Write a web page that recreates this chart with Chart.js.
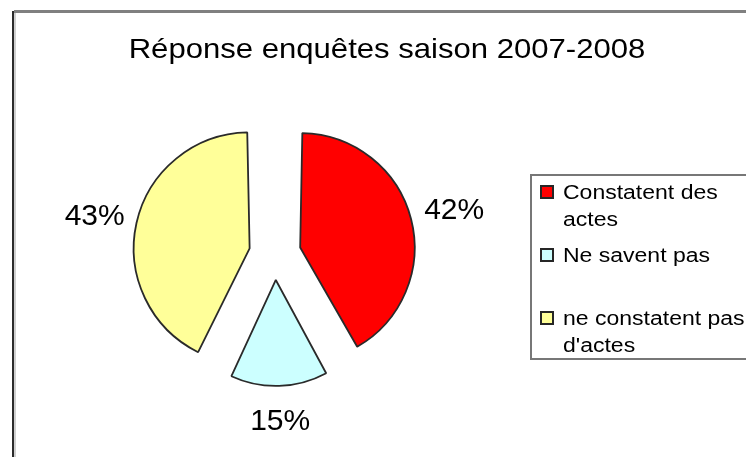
<!DOCTYPE html>
<html lang="fr">
<head>
<meta charset="utf-8">
<title>Réponse enquêtes saison 2007-2008</title>
<script src="https://cdn.jsdelivr.net/npm/chart.js@4.4.1/dist/chart.umd.min.js"></script>
<style>
  body { margin: 0; background: #ffffff; }
  canvas { display: block; }
</style>
</head>
<body>
<canvas id="myChart" width="746" height="457"></canvas>
<script>
// Datos del gráfico
const titulo = "Réponse enquêtes saison 2007-2008";
const categorias = ["Constatent des actes", "Ne savent pas", "ne constatent pas d'actes"];
const lineasLeyenda = [["Constatent des", "actes"], ["Ne savent pas"], ["ne constatent pas", "d'actes"]];
const valores = [42, 15, 43];
const colores = ["#ff0000", "#ccffff", "#ffff99"];

const fuente = '"Liberation Sans", Arial, sans-serif';
const separacion = 104; // chart.js desplaza cada porción offset / 4

// Texto estirado en horizontal, como en la imagen original
function textoEstirado(ctx, texto, x, y, escala) {
    ctx.save();
    ctx.translate(x, y);
    ctx.scale(escala, 1);
    ctx.fillText(texto, 0, 0);
    ctx.restore();
}

// Plugin para el marco, el título, los porcentajes y la leyenda con borde
const dibujoExtra = {
    id: "dibujoExtra",
    beforeDraw(chart) {
        const ctx = chart.ctx;
        ctx.save();
        ctx.fillStyle = "#2b2b2b";
        ctx.fillRect(12, 11, 2, chart.height);
        ctx.fillStyle = "#d0d0d0";
        ctx.fillRect(14, 13, 2, chart.height);
        ctx.fillStyle = "#808080";
        ctx.fillRect(14, 10, chart.width, 3);
        ctx.restore();
    },
    afterDraw(chart) {
        const ctx = chart.ctx;
        ctx.save();
        ctx.fillStyle = "#000000";

        // Título
        ctx.font = `28px ${fuente}`;
        ctx.textAlign = "center";
        ctx.textBaseline = "alphabetic";
        textoEstirado(ctx, titulo, 387, 58, 1.11);

        // Porcentajes fuera de cada porción
        ctx.font = `30px ${fuente}`;
        const meta = chart.getDatasetMeta(0);
        meta.data.forEach((arco, i) => {
            const angulo = (arco.startAngle + arco.endAngle) / 2;
            const ux = Math.cos(angulo);
            const uy = Math.sin(angulo);
            const texto = `${valores[i]}%`;
            const mitadAncho = ctx.measureText(texto).width / 2;
            const mitadAlto = 11;
            const borde = arco.outerRadius + separacion / 4 + 27;
            const extra = Math.min(
                mitadAncho / Math.max(Math.abs(ux), 1e-6),
                mitadAlto / Math.max(Math.abs(uy), 1e-6)
            );
            const d = borde + extra;
            ctx.fillText(texto, arco.x + ux * d, arco.y + uy * d + 11);
        });

        // Leyenda
        ctx.strokeStyle = "#777777";
        ctx.lineWidth = 2;
        ctx.strokeRect(531, 175, 240, 184);

        const baseLineas = [199, 262, 325];
        ctx.font = `20px ${fuente}`;
        ctx.textAlign = "left";
        lineasLeyenda.forEach((lineas, i) => {
            const y = baseLineas[i];
            ctx.fillStyle = colores[i];
            ctx.fillRect(541, y - 13, 12, 12);
            ctx.strokeStyle = "#262626";
            ctx.lineWidth = 2;
            ctx.strokeRect(541, y - 13, 12, 12);
            ctx.fillStyle = "#000000";
            lineas.forEach((linea, j) => {
                textoEstirado(ctx, linea, 563, y + j * 26.5, 1.15);
            });
        });
        ctx.restore();
    }
};

const config = {
    type: "pie",
    data: {
        labels: categorias,
        datasets: [
            {
                data: valores,
                backgroundColor: colores,
                borderColor: "#2a2a2a",
                borderWidth: 1.8,
                offset: separacion,
                hoverOffset: 0,
                radius: 101,
            }
        ]
    },
    options: {
        responsive: false,
        animation: false,
        events: [],
        layout: {
            padding: {
                top: 80,
                bottom: 29,
                left: 20,
                right: 216,
            },
        },
        plugins: {
            legend: { display: false },
            tooltip: { enabled: false },
            title: { display: false },
        }
    },
    plugins: [dibujoExtra]
};

const myChart = document.getElementById("myChart");
new Chart(myChart, config);
</script>
</body>
</html>
